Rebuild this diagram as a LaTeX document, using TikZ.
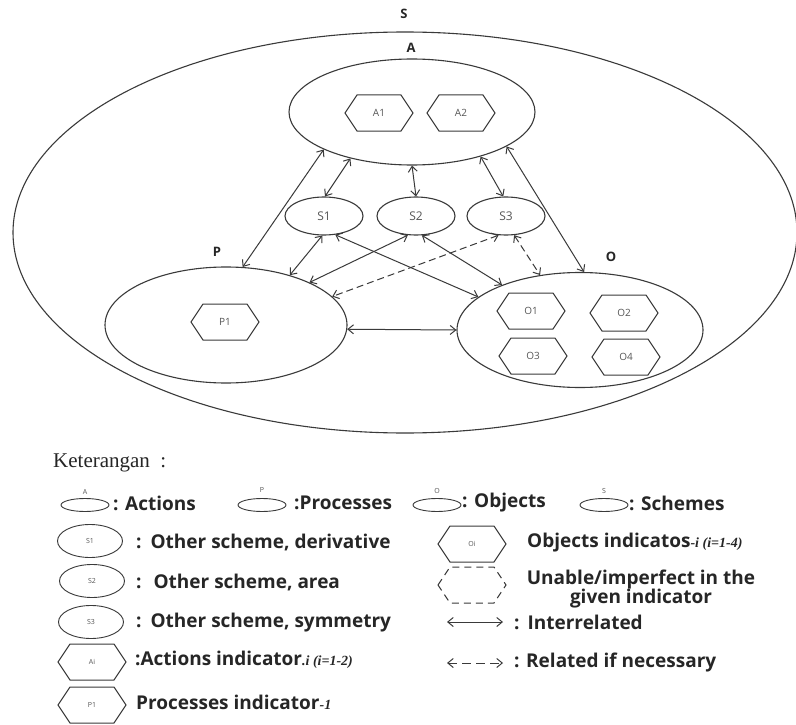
\documentclass[tikz,border=0pt]{standalone}
\usepackage{fontspec}
\setmainfont{Open Sans}
\newfontfamily\seriffont{Liberation Serif}
\usetikzlibrary{shapes.geometric,arrows.meta}
\definecolor{lc}{HTML}{3A3A3A}
\definecolor{tx}{HTML}{262626}
\definecolor{sm}{HTML}{555555}
\newcommand{\itpart}[1]{{\seriffont\itshape\fontsize{14}{14}\selectfont #1}}
\newcommand{\hexnode}[5]{%
  \node[#5] (#1) at (#2,#3) {#4};
  \draw[hexline] (#2-34,#3) -- (#2-22,#3-18) -- (#2+22,#3-18) -- (#2+34,#3) -- (#2+22,#3+18) -- (#2-22,#3+18) -- cycle;}
\begin{document}
\begin{tikzpicture}[x=1pt,y=-1pt,
  hexline/.style={draw=lc, line width=1pt},
  ell/.style={ellipse, draw=lc, line width=1.1pt, inner sep=0pt},
  lbl/.style={font=\fontsize{13}{13}\selectfont\bfseries, text=tx, inner sep=0pt},
  inlbl/.style={font=\fontsize{10}{10}\selectfont, text=sm, inner sep=0pt},
  slbl/.style={font=\fontsize{12}{12}\selectfont, text=sm},
  tiny/.style={font=\fontsize{7}{7}\selectfont, text=sm, inner sep=0pt},
  leg/.style={font=\fontsize{19}{19}\selectfont\bfseries, text=tx, anchor=west, inner sep=0pt},
  conn/.style={draw=lc, line width=1pt, {Straight Barb[length=5.5pt,width=9pt]}-{Straight Barb[length=5.5pt,width=9pt]}},
  dconn/.style={conn, dash pattern=on 7pt off 4pt},
]
\useasboundingbox (0,0) rectangle (796,725);
\fill[white] (0,0) rectangle (796,725);

% main diagram
\node[ell, minimum width=784pt, minimum height=401pt] (S) at (405,232.5) {};
\node[lbl] (Slab) at (404,14) {S};
\node[ell, minimum width=246pt, minimum height=106pt] (A) at (412,112) {};
\node[lbl] (Alab) at (411,48) {A};
\node[ell, slbl, minimum width=78pt, minimum height=38pt] (S1) at (324,216) {S1};
\node[ell, slbl, minimum width=78pt, minimum height=38pt] (S2) at (416,216) {S2};
\node[ell, slbl, minimum width=78pt, minimum height=38pt] (S3) at (506,216) {S3};
\node[ell, minimum width=242pt, minimum height=116pt] (P) at (226,325) {};
\node[lbl] (Plab) at (217,252) {P};
\node[ell, minimum width=246pt, minimum height=115pt] (O) at (580,330) {};
\node[lbl] (Olab) at (611,257) {O};

\hexnode{A1}{379}{113}{A1}{inlbl}
\hexnode{A2}{461}{113}{A2}{inlbl}
\hexnode{P1}{225}{322}{P1}{inlbl}
\hexnode{O1}{531}{311}{O1}{inlbl}
\hexnode{O2}{624}{313}{O2}{inlbl}
\hexnode{O3}{533}{356}{O3}{inlbl}
\hexnode{O4}{626}{357}{O4}{inlbl}

\draw[conn] (A.203) -- (P.74);
\draw[conn] (A.217) -- (S1.87);
\draw[conn] (A.270) -- (S2.90);
\draw[conn] (A.327) -- (S3.98);
\draw[conn] (A.340) -- (O.86);
\draw[conn] (S1.265) -- (P.38);
\draw[conn] (S1.301) -- (O.162);
\draw[conn] (S2.247) -- (P.27);
\draw[conn] (S2.287) -- (O.150);
\draw[dconn] (S3.249) -- (P.15);
\draw[dconn] (S3.293) -- (O.126);
\draw[conn] (P.358) -- (O.180);

% legend
\node[anchor=west, inner sep=0pt, text=tx, font=\seriffont\fontsize{21}{21}\selectfont] (ket) at (53,463) {Keterangan\ \ :};

\node[ell, line width=0.9pt, minimum width=48pt, minimum height=13pt] (LA) at (85,505) {};
\node[tiny] (LAl) at (85,492) {A};
\node[leg] (LAt) at (113,503) {: Actions};
\node[ell, line width=0.9pt, minimum width=48pt, minimum height=13pt] (LP) at (262,505) {};
\node[tiny] (LPl) at (262,490) {P};
\node[leg] (LPt) at (294,503) {:Processes};
\node[ell, line width=0.9pt, minimum width=48pt, minimum height=13pt] (LO) at (437,505) {};
\node[tiny] (LOl) at (437,491) {O};
\node[leg] (LOt) at (462,503) {: Objects};
\node[ell, line width=0.9pt, minimum width=48pt, minimum height=13pt] (LS) at (604,505) {};
\node[tiny] (LSl) at (604,491) {S};
\node[leg] (LSt) at (629,503) {: Schemes};

\node[ell, tiny, line width=0.9pt, minimum width=65pt, minimum height=33pt] (LS1) at (90,541) {S1};
\node[leg] (LS1t) at (136,543) {:\hspace{9pt}Other scheme, derivative};
\node[ell, tiny, line width=0.9pt, minimum width=65pt, minimum height=33pt] (LS2) at (92,581) {S2};
\node[leg] (LS2t) at (136,583) {:\hspace{12pt}Other scheme, area};
\node[ell, tiny, line width=0.9pt, minimum width=65pt, minimum height=33pt] (LS3) at (91,622) {S3};
\node[leg] (LS3t) at (136,623) {:\hspace{9pt}Other scheme, symmetry};

\hexnode{LAi}{92}{662}{Ai}{tiny}
\node[leg] (LAit) at (135,660) {:Actions indicator\itpart{.i (i=1-2)}};
\hexnode{LP1}{92}{705}{P1}{tiny}
\node[leg] (LP1t) at (136,702) {Processes indicator\itpart{-1}};

\hexnode{LOi}{472}{544}{Oi}{tiny}
\node[leg] (LOit) at (527,543) {Objects indicatos\itpart{-i (i=1-4)}};
\node[inner sep=0pt] (LUn) at (472,585) {};
\draw[draw=lc, line width=1pt, dash pattern=on 7pt off 5pt] (438,585) -- (450,567) -- (494,567) -- (506,585) -- (494,603) -- (450,603) -- cycle;
\node[leg, anchor=center, align=center] (LUnt) at (641,589) {Unable/imperfect in the\\given indicator};

\coordinate (ia) at (447,622);
\coordinate (ib) at (503,622);
\draw[conn] (ia) -- (ib);
\node[leg] (Lint) at (514,622) {:\hspace{8pt}Interrelated};
\coordinate (ra) at (447,663);
\coordinate (rb) at (503,663);
\draw[dconn, dash pattern=on 9pt off 5pt] (ra) -- (rb);
\node[leg] (Lrel) at (514,663) {: Related if necessary};
\end{tikzpicture}
\end{document}
